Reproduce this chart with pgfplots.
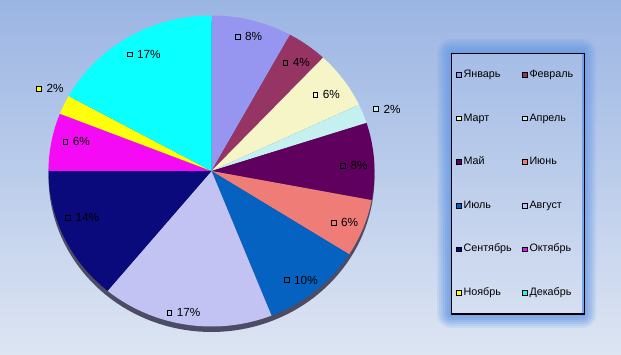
\documentclass[border=0pt]{standalone}
\usepackage{pgfplots}
\pgfplotsset{compat=1.18}
\usepackage{pgfplotstable}
\usepackage{fontspec}
\setmainfont{Liberation Sans}

\definecolor{bgtop}{HTML}{9BB5E3}
\definecolor{bgbot}{HTML}{DDE5F3}
\definecolor{glowcol}{HTML}{6A9CE6}
\definecolor{shadowcol}{HTML}{4C4C66}
\definecolor{sl0}{HTML}{9696F0}
\definecolor{sl1}{HTML}{963464}
\definecolor{sl2}{HTML}{F5F5C8}
\definecolor{sl3}{HTML}{C4F0F0}
\definecolor{sl4}{HTML}{5F005F}
\definecolor{sl5}{HTML}{F07C78}
\definecolor{sl6}{HTML}{0562C0}
\definecolor{sl7}{HTML}{C3C3F3}
\definecolor{sl8}{HTML}{0A0A7D}
\definecolor{sl9}{HTML}{F50AF5}
\definecolor{sl10}{HTML}{FFFF0A}
\definecolor{sl11}{HTML}{0AFFFF}

\pgfplotstableread{
month pct
Январь 8
Февраль 4
Март 6
Апрель 2
Май 8
Июнь 6
Июль 10
Август 17
Сентябрь 14
Октябрь 6
Ноябрь 2
Декабрь 17
}\piedata

\newcommand{\lblfont}{\fontsize{11.8}{13}\selectfont}
\tikzset{glow/.style={glowcol, opacity=#1, even odd rule}}

\begin{document}
\begin{tikzpicture}
\begin{axis}[
  width=621bp, height=355bp, scale only axis,
  xmin=0, xmax=621, ymin=0, ymax=355,
  hide axis, clip=false,
  legend columns=2,
  legend cell align=left,
  legend image code/.code={\draw[#1,draw=black,line width=0.6bp] (0bp,-2.35bp) rectangle (4.7bp,2.35bp);},
  legend style={at={(axis cs:451,302)}, anchor=north west,
    draw=black, line width=1.2bp, fill=none,
    inner xsep=4.7bp, inner ysep=16bp,
    font=\fontsize{10.8}{12}\selectfont,
    row sep=33.1bp, column sep=2bp,
    nodes={inner sep=0pt, text width=50bp, align=left, text height=8bp, text depth=2.5bp},
    /tikz/every even column/.append style={column sep=8.6bp}},
  nodes near coords align={horizontal},
  every node near coord/.append style={xshift=7.2bp, inner sep=0pt, font=\lblfont, text=black},
]
% background
\fill[top color=bgtop, bottom color=bgbot] (axis cs:0,0) rectangle (axis cs:621,355);
% legend glow
\fill[glow=0.14, rounded corners=14bp] (axis cs:437,27) rectangle (axis cs:596,316) [sharp corners] (axis cs:451,41) rectangle (axis cs:582,302);
\fill[glow=0.17, rounded corners=12bp] (axis cs:439,29) rectangle (axis cs:594,314) [sharp corners] (axis cs:451,41) rectangle (axis cs:582,302);
\fill[glow=0.20, rounded corners=10bp] (axis cs:441,31) rectangle (axis cs:592,312) [sharp corners] (axis cs:451,41) rectangle (axis cs:582,302);
\fill[glow=0.22, rounded corners=8bp] (axis cs:443,33) rectangle (axis cs:590,310) [sharp corners] (axis cs:451,41) rectangle (axis cs:582,302);
\fill[glow=0.25, rounded corners=6bp] (axis cs:445,35) rectangle (axis cs:588,308) [sharp corners] (axis cs:451,41) rectangle (axis cs:582,302);
\fill[glow=0.28, rounded corners=4bp] (axis cs:447,37) rectangle (axis cs:586,306) [sharp corners] (axis cs:451,41) rectangle (axis cs:582,302);
\fill[glow=0.30, rounded corners=2bp] (axis cs:449,39) rectangle (axis cs:584,304) [sharp corners] (axis cs:451,41) rectangle (axis cs:582,302);
% 3D depth shadow
\addplot[forget plot, fill=shadowcol, draw=none, domain=0:360, samples=150]
  ({211.5+163*cos(x)},{178.5+155.5*sin(x)}) -- cycle;
% sectors
\def\cum{0}
\pgfplotsforeachungrouped \i in {0,...,11}{%
  \pgfplotstablegetelem{\i}{pct}\of\piedata \let\v\pgfplotsretval
  \pgfplotstablegetelem{\i}{month}\of\piedata \let\m\pgfplotsretval
  \pgfmathsetmacro\aStart{90-3.6*\cum}%
  \pgfmathsetmacro\aEnd{90-3.6*(\cum+\v)}%
  \pgfmathsetmacro\cum{\cum+\v}%
  \edef\doplot{\noexpand\addplot[fill=sl\i, draw=none, domain=\aEnd:\aStart, samples=60, variable=\noexpand\t]
    ({211.5+163*cos(\noexpand\t)},{184+155.5*sin(\noexpand\t)}) -- (axis cs:211.5,184) -- cycle;
    \noexpand\addlegendentry{\m}}%
  \doplot
}
% data labels
\addplot[forget plot, only marks, mark=square*, mark size=2.35bp, mark options={fill=sl0, draw=black, line width=0.6bp}, nodes near coords={8\%}] coordinates {(237.6,318.3)};
\addplot[forget plot, only marks, mark=square*, mark size=2.35bp, mark options={fill=sl1, draw=black, line width=0.6bp}, nodes near coords={4\%}] coordinates {(285.3,292.3)};
\addplot[forget plot, only marks, mark=square*, mark size=2.35bp, mark options={fill=sl2, draw=black, line width=0.6bp}, nodes near coords={6\%}] coordinates {(315.3,260.3)};
\addplot[forget plot, only marks, mark=square*, mark size=2.35bp, mark options={fill=sl3, draw=black, line width=0.6bp}, nodes near coords={2\%}] coordinates {(376,246)};
\addplot[forget plot, only marks, mark=square*, mark size=2.35bp, mark options={fill=sl4, draw=black, line width=0.6bp}, nodes near coords={8\%}] coordinates {(343,189.3)};
\addplot[forget plot, only marks, mark=square*, mark size=2.35bp, mark options={fill=sl5, draw=black, line width=0.6bp}, nodes near coords={6\%}] coordinates {(333.5,132.3)};
\addplot[forget plot, only marks, mark=square*, mark size=2.35bp, mark options={fill=sl6, draw=black, line width=0.6bp}, nodes near coords={10\%}] coordinates {(286.7,75)};
\addplot[forget plot, only marks, mark=square*, mark size=2.35bp, mark options={fill=sl7, draw=black, line width=0.6bp}, nodes near coords={17\%}] coordinates {(169.3,42.3)};
\addplot[forget plot, only marks, mark=square*, mark size=2.35bp, mark options={fill=sl8, draw=black, line width=0.6bp}, nodes near coords={14\%}] coordinates {(68,137.3)};
\addplot[forget plot, only marks, mark=square*, mark size=2.35bp, mark options={fill=sl9, draw=black, line width=0.6bp}, nodes near coords={6\%}] coordinates {(65.3,213.3)};
\addplot[forget plot, only marks, mark=square*, mark size=2.35bp, mark options={fill=sl10, draw=black, line width=0.6bp}, nodes near coords={2\%}] coordinates {(39,266.3)};
\addplot[forget plot, only marks, mark=square*, mark size=2.35bp, mark options={fill=sl11, draw=black, line width=0.6bp}, nodes near coords={17\%}] coordinates {(129.5,300.7)};
\end{axis}
\pgfresetboundingbox
\path (current axis.south west) rectangle (current axis.north east);
\end{tikzpicture}
\end{document}
